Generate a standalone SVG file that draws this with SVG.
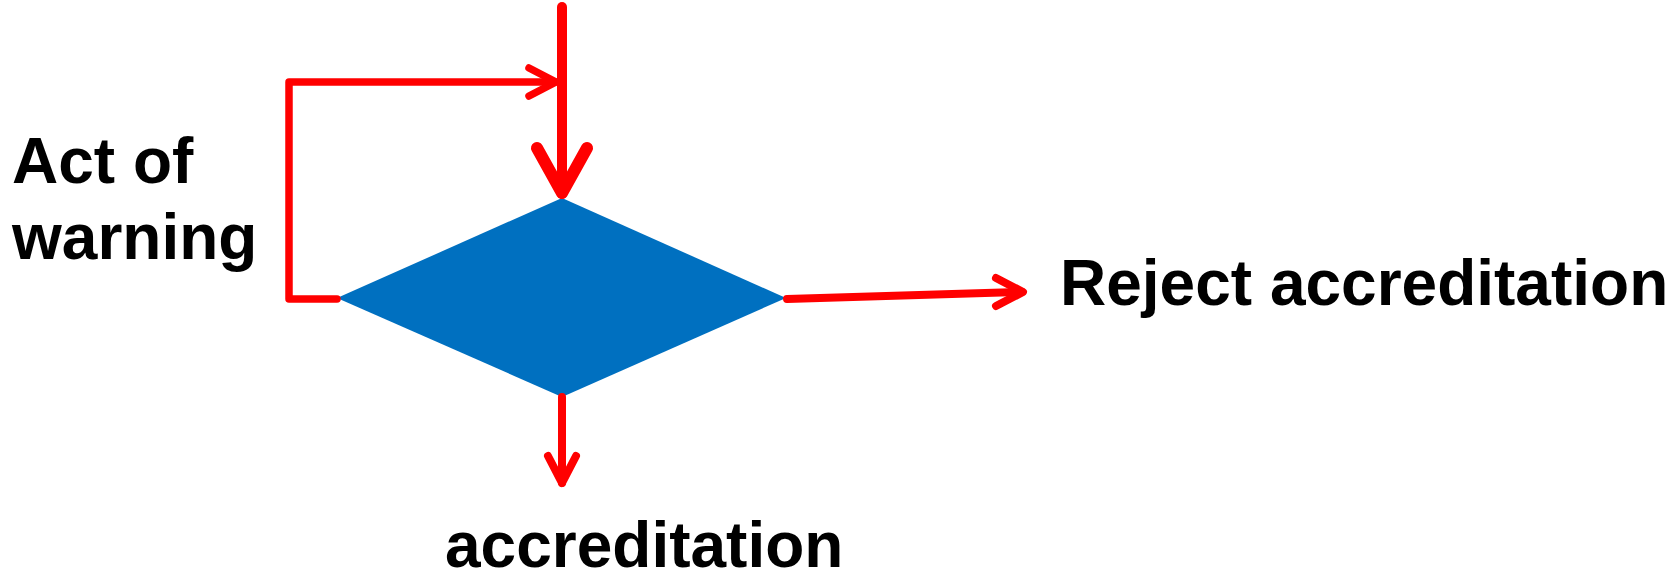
<svg xmlns="http://www.w3.org/2000/svg" width="1671" height="577" viewBox="0 0 1671 577">
  <style>
    .lbl { font-family: "Liberation Sans", Arial, sans-serif; font-weight: bold; font-size: 64px; fill: #000; }
    .con { fill: none; stroke: #FF0000; stroke-linecap: round; stroke-linejoin: round; }
  </style>
  <rect width="1671" height="577" fill="#FFFFFF"/>
  <g id="decision">
    <polygon points="562,198 786,298 562,397 337,298" fill="#0070C0"/>
  </g>
  <g id="connectors">
    <line class="con" x1="562" y1="7" x2="562" y2="194" stroke-width="10" stroke-linecap="butt"/>
    <polyline class="con" points="537,148 562,193 587,148" stroke-width="12"/>
    <polyline class="con" points="337,299 289,299 289,82 555,82" stroke-width="7.5" stroke-linecap="butt"/>
    <polyline class="con" points="529,68 556,82 529,96" stroke-width="7.5"/>
    <line class="con" x1="787" y1="299" x2="1022" y2="292" stroke-width="8" stroke-linecap="butt"/>
    <polyline class="con" points="996,278 1023,292 996,306" stroke-width="8"/>
    <line class="con" x1="562" y1="397" x2="562" y2="483" stroke-width="8" stroke-linecap="butt"/>
    <polyline class="con" points="548,456 562,483 576,456" stroke-width="8"/>
  </g>
  <g id="label-act-of-warning">
    <text class="lbl" x="12" y="183">Act of</text>
    <text class="lbl" x="12" y="259">warning</text>
  </g>
  <g id="label-reject">
    <text class="lbl" x="1060" y="305">Reject accreditation</text>
  </g>
  <g id="label-accreditation">
    <text class="lbl" x="445" y="567">accreditation</text>
  </g>
</svg>
